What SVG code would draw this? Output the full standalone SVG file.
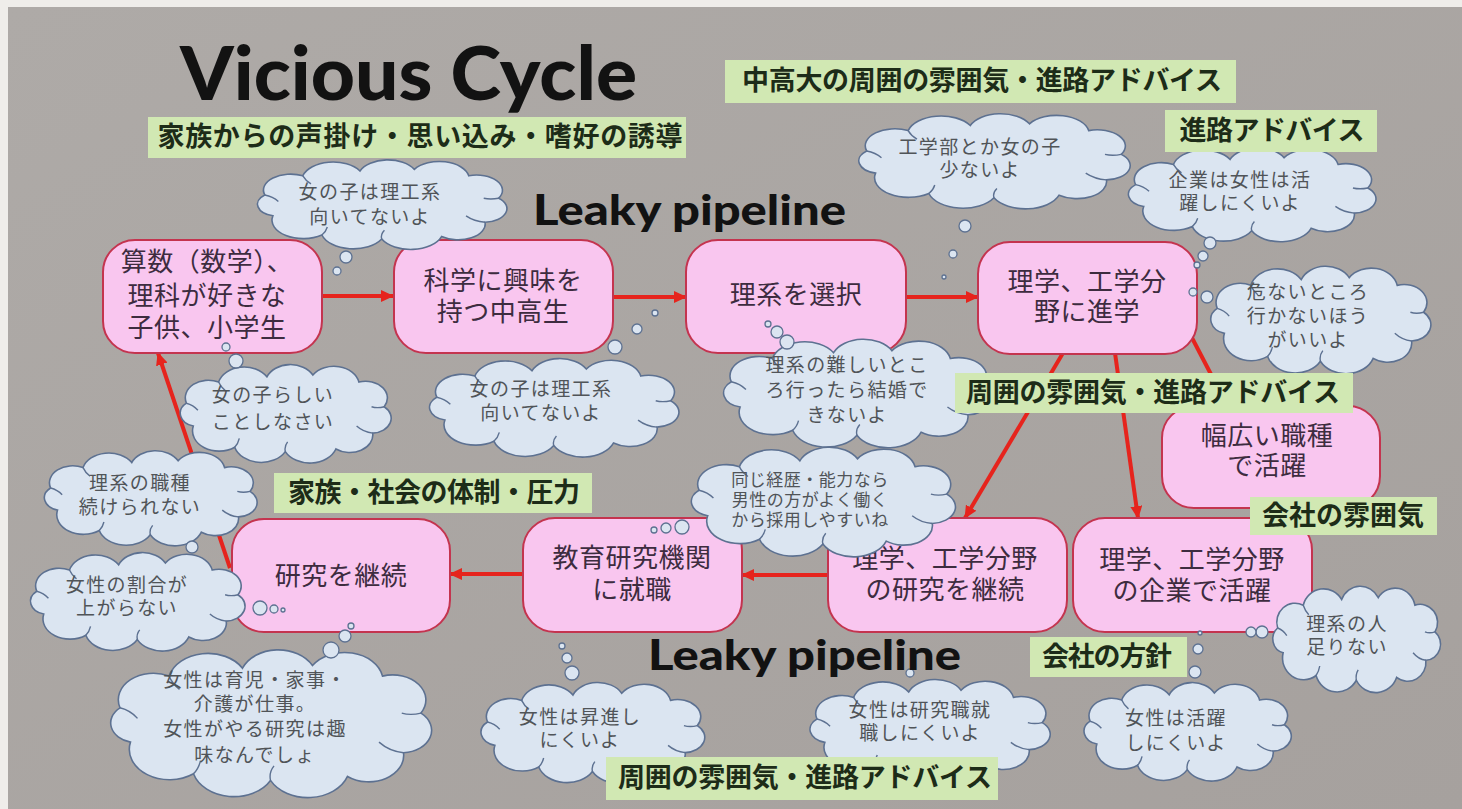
<svg xmlns="http://www.w3.org/2000/svg" width="1462" height="809" viewBox="0 0 1462 809">
<defs>
<linearGradient id="bg" x1="0" y1="0" x2="1" y2="1">
<stop offset="0" stop-color="#aeaaa7"/><stop offset="1" stop-color="#a6a19e"/>
</linearGradient>
<marker id="arr" markerUnits="userSpaceOnUse" markerWidth="14" markerHeight="12" refX="12" refY="6" orient="auto">
<path d="M0,0 L13,6 L0,12 z" fill="#e6241d"/>
</marker>
<symbol id="cloud" viewBox="0 0 200 100" preserveAspectRatio="none" overflow="visible">
<path class="cl" d="M22,66 A15,15 0 0 1 16,40 A20,20 0 0 1 44,16 A23,23 0 0 1 86,10 A22,22 0 0 1 126,8 A22,22 0 0 1 166,16 A19,19 0 0 1 188,44 A17,17 0 0 1 178,74 A20,20 0 0 1 146,92 A24,24 0 0 1 102,95 A24,24 0 0 1 58,90 A23,23 0 0 1 22,66 Z"/>
<path class="ci" d="M16,40 q6,2 10,8 M44,16 q2,6 6,10 M188,44 q-6,2 -11,0 M178,74 q-8,-1 -14,-8 M102,95 q-1,-6 2,-11 M58,90 q3,-4 4,-10"/>
</symbol>
</defs>
<style>
.cl{fill:#dbe5f1;stroke:#5d7191;stroke-width:1.6;vector-effect:non-scaling-stroke}
.ci{fill:none;stroke:#5d7191;stroke-width:1.4;vector-effect:non-scaling-stroke}
.bub{fill:#dbe5f1;stroke:#5d7191;stroke-width:1.3}
.node{fill:#f9c6ef;stroke:#c4344f;stroke-width:2}
.nt{font-family:"Liberation Sans","Noto Sans CJK JP",sans-serif;font-size:26px;fill:#3d2c3f;text-anchor:middle;dominant-baseline:central;letter-spacing:0.5px}
.ct{font-family:"Liberation Sans","Noto Sans CJK JP",sans-serif;font-size:19px;fill:#505458;text-anchor:middle;dominant-baseline:central;letter-spacing:1.4px}
.ct2{font-family:"Liberation Sans","Noto Sans CJK JP",sans-serif;font-size:17px;fill:#505458;text-anchor:middle;dominant-baseline:central;letter-spacing:0.5px}
.lb{fill:#d1e8b3}
.lt{font-family:"Liberation Sans","Noto Sans CJK JP",sans-serif;font-size:27px;font-weight:700;fill:#1d2c18;text-anchor:middle;dominant-baseline:central}
.con{stroke:#e6241d;stroke-width:4;fill:none;marker-end:url(#arr)}
.big{font-family:Lato,"DejaVu Sans",sans-serif;font-weight:900;fill:#121212}
</style>

<rect x="0" y="0" width="1462" height="809" fill="#efedea"/>
<rect x="8" y="7" width="1454" height="802" fill="url(#bg)"/>

<g id="connectors">
<path class="con" d="M322,296 L393,296"/>
<path class="con" d="M612,297 L686,297"/>
<path class="con" d="M907,297 L978,297"/>
<path class="con" d="M1063,353 L965,518"/>
<path class="con" d="M1115,353 L1138,518"/>
<path class="con" d="M1190,334 L1228,407"/>
<path class="con" d="M828,575 L742,575"/>
<path class="con" d="M523,574 L450,574"/>
<path class="con" d="M230,568 L158,353"/>
</g>

<g id="n1"><rect class="node" x="103" y="240" width="219" height="113" rx="32"/>
<text class="nt"><tspan x="207" y="262">算数（数学）、</tspan><tspan x="207" y="296">理科が好きな</tspan><tspan x="207" y="328">子供、小学生</tspan></text></g>
<g id="n2"><rect class="node" x="394" y="240" width="219" height="113" rx="32"/>
<text class="nt"><tspan x="503" y="281">科学に興味を</tspan><tspan x="503" y="312">持つ中高生</tspan></text></g>
<g id="n3"><rect class="node" x="686" y="240" width="220" height="113" rx="32"/>
<text class="nt" x="796" y="295">理系を選択</text></g>
<g id="n4"><rect class="node" x="978" y="242" width="219" height="112" rx="32"/>
<text class="nt"><tspan x="1087" y="282">理学、工学分</tspan><tspan x="1087" y="312">野に進学</tspan></text></g>
<g id="n5"><rect class="node" x="1162" y="406" width="218" height="102" rx="32"/>
<text class="nt"><tspan x="1267" y="436">幅広い職種</tspan><tspan x="1267" y="466">で活躍</tspan></text></g>
<g id="n6"><rect class="node" x="1073" y="518" width="239" height="114" rx="32"/>
<text class="nt"><tspan x="1192" y="560">理学、工学分野</tspan><tspan x="1192" y="591">の企業で活躍</tspan></text></g>
<g id="n7"><rect class="node" x="828" y="518" width="239" height="114" rx="32"/>
<text class="nt"><tspan x="945" y="559">理学、工学分野</tspan><tspan x="945" y="590">の研究を継続</tspan></text></g>
<g id="n8"><rect class="node" x="523" y="518" width="219" height="114" rx="32"/>
<text class="nt"><tspan x="632" y="558">教育研究機関</tspan><tspan x="632" y="590">に就職</tspan></text></g>
<g id="n9"><rect class="node" x="232" y="519" width="218" height="113" rx="32"/>
<text class="nt" x="341" y="576">研究を継続</text></g>

<g id="c1"><use href="#cloud" x="243" y="163" width="272" height="80"/>
<circle class="bub" cx="346" cy="257" r="6"/><circle class="bub" cx="337" cy="271" r="4"/>
<text class="ct"><tspan x="370" y="192">女の子は理工系</tspan><tspan x="370" y="217">向いてないよ</tspan></text></g>
<g id="c2"><use href="#cloud" x="168" y="368" width="230" height="88"/>
<circle class="bub" cx="236" cy="361" r="7"/><circle class="bub" cx="226" cy="347" r="4"/>
<text class="ct"><tspan x="273" y="395">女の子らしい</tspan><tspan x="273" y="422">ことしなさい</tspan></text></g>
<g id="c3"><use href="#cloud" x="415" y="362" width="272" height="88"/>
<circle class="bub" cx="615" cy="347" r="7"/><circle class="bub" cx="637" cy="329" r="5"/><circle class="bub" cx="655" cy="313" r="3"/>
<text class="ct"><tspan x="541" y="389">女の子は理工系</tspan><tspan x="541" y="413">向いてないよ</tspan></text></g>
<g id="c4"><use href="#cloud" x="708" y="343" width="292" height="97"/>
<circle class="bub" cx="787" cy="342" r="7"/><circle class="bub" cx="777" cy="332" r="6"/><circle class="bub" cx="768" cy="324" r="3"/>
<text class="ct"><tspan x="847" y="365">理系の難しいとこ</tspan><tspan x="847" y="390">ろ行ったら結婚で</tspan><tspan x="847" y="415">きないよ</tspan></text></g>
<g id="c5"><use href="#cloud" x="843" y="117" width="296" height="85"/>
<circle class="bub" cx="965" cy="226" r="6"/><circle class="bub" cx="953" cy="254" r="4"/><circle class="bub" cx="944" cy="277" r="2"/>
<text class="ct"><tspan x="980" y="147">工学部とか女の子</tspan><tspan x="980" y="170">少ないよ</tspan></text></g>
<g id="c6"><use href="#cloud" x="1114" y="151" width="270" height="84"/>
<circle class="bub" cx="1210" cy="243" r="6"/><circle class="bub" cx="1203" cy="256" r="5"/><circle class="bub" cx="1197" cy="265" r="3"/>
<text class="ct"><tspan x="1240" y="180">企業は女性は活</tspan><tspan x="1240" y="203">躍しにくいよ</tspan></text></g>
<g id="c7"><use href="#cloud" x="1198" y="270" width="240" height="96"/>
<circle class="bub" cx="1207" cy="297" r="6"/><circle class="bub" cx="1193" cy="292" r="4"/>
<text class="ct"><tspan x="1308" y="292">危ないところ</tspan><tspan x="1308" y="316">行かないほう</tspan><tspan x="1308" y="340">がいいよ</tspan></text></g>
<g id="c8"><use href="#cloud" x="32" y="454" width="232" height="85"/>
<circle class="bub" cx="192" cy="547" r="6"/>
<text class="ct"><tspan x="140" y="483">理系の職種</tspan><tspan x="140" y="507">続けられない</tspan></text></g>
<g id="c9"><use href="#cloud" x="18" y="556" width="234" height="88"/>
<circle class="bub" cx="260" cy="608" r="7"/><circle class="bub" cx="274" cy="609" r="4"/><circle class="bub" cx="283" cy="610" r="2"/>
<text class="ct"><tspan x="127" y="585">女性の割合が</tspan><tspan x="127" y="608">上がらない</tspan></text></g>
<g id="c10"><use href="#cloud" x="92" y="655" width="350" height="132"/>
<circle class="bub" cx="331" cy="650" r="8"/><circle class="bub" cx="345" cy="636" r="6"/><circle class="bub" cx="351" cy="626" r="3"/>
<text class="ct"><tspan x="255" y="680">女性は育児・家事・</tspan><tspan x="255" y="704">介護が仕事。</tspan><tspan x="255" y="729">女性がやる研究は趣</tspan><tspan x="255" y="755">味なんでしょ</tspan></text></g>
<g id="c11"><use href="#cloud" x="676" y="451" width="288" height="98"/>
<circle class="bub" cx="682" cy="527" r="7"/><circle class="bub" cx="666" cy="528" r="5"/><circle class="bub" cx="654" cy="530" r="3"/>
<text class="ct2"><tspan x="810" y="480">同じ経歴・能力なら</tspan><tspan x="810" y="500">男性の方がよく働く</tspan><tspan x="810" y="520">から採用しやすいね</tspan></text></g>
<g id="c12"><use href="#cloud" x="468" y="686" width="244" height="90"/>
<circle class="bub" cx="572" cy="673" r="7"/><circle class="bub" cx="567" cy="658" r="5"/><circle class="bub" cx="562" cy="646" r="3"/>
<text class="ct"><tspan x="580" y="717">女性は昇進し</tspan><tspan x="580" y="740">にくいよ</tspan></text></g>
<g id="c13"><use href="#cloud" x="796" y="683" width="262" height="90"/>
<circle class="bub" cx="910" cy="673" r="4"/>
<text class="ct"><tspan x="920" y="710">女性は研究職就</tspan><tspan x="920" y="733">職しにくいよ</tspan></text></g>
<g id="c14"><use href="#cloud" x="1072" y="686" width="226" height="88"/>
<circle class="bub" cx="1195" cy="672" r="6"/><circle class="bub" cx="1198" cy="649" r="5"/><circle class="bub" cx="1200" cy="633" r="2"/>
<text class="ct"><tspan x="1176" y="718">女性は活躍</tspan><tspan x="1176" y="743">しにくいよ</tspan></text></g>
<g id="c15"><use href="#cloud" x="1263" y="590" width="183" height="95"/>
<circle class="bub" cx="1262" cy="632" r="6"/><circle class="bub" cx="1251" cy="632" r="5"/>
<text class="ct"><tspan x="1347" y="624">理系の人</tspan><tspan x="1347" y="647">足りない</tspan></text></g>

<g id="l1"><rect class="lb" x="148" y="117" width="538" height="41"/><text class="lt" x="420" y="137" textLength="525" lengthAdjust="spacing">家族からの声掛け・思い込み・嗜好の誘導</text></g>
<g id="l2"><rect class="lb" x="725" y="60" width="511" height="43"/><text class="lt" x="982" y="81" textLength="480" lengthAdjust="spacing">中高大の周囲の雰囲気・進路アドバイス</text></g>
<g id="l3"><rect class="lb" x="1165" y="110" width="212" height="42"/><text class="lt" x="1272" y="131" textLength="185" lengthAdjust="spacing">進路アドバイス</text></g>
<g id="l4"><rect class="lb" x="955" y="373" width="398" height="40"/><text class="lt" x="1153" y="393" textLength="374" lengthAdjust="spacing">周囲の雰囲気・進路アドバイス</text></g>
<g id="l5"><rect class="lb" x="1250" y="497" width="187" height="38"/><text class="lt" x="1343" y="516" textLength="162" lengthAdjust="spacing">会社の雰囲気</text></g>
<g id="l6"><rect class="lb" x="274" y="473" width="318" height="40"/><text class="lt" x="434" y="493" textLength="292" lengthAdjust="spacing">家族・社会の体制・圧力</text></g>
<g id="l7"><rect class="lb" x="1030" y="637" width="157" height="40"/><text class="lt" x="1107" y="657" textLength="130" lengthAdjust="spacing">会社の方針</text></g>
<g id="l8"><rect class="lb" x="606" y="757" width="392" height="43"/><text class="lt" x="805" y="778" textLength="374" lengthAdjust="spacing">周囲の雰囲気・進路アドバイス</text></g>

<g id="titles">
<text class="big" x="180" y="100" font-size="74" textLength="457" lengthAdjust="spacingAndGlyphs">Vicious Cycle</text>
<text class="big" x="533" y="225" font-size="42" textLength="313" lengthAdjust="spacingAndGlyphs">Leaky pipeline</text>
<text class="big" x="648" y="670" font-size="42" textLength="313" lengthAdjust="spacingAndGlyphs">Leaky pipeline</text>
</g>
</svg>
